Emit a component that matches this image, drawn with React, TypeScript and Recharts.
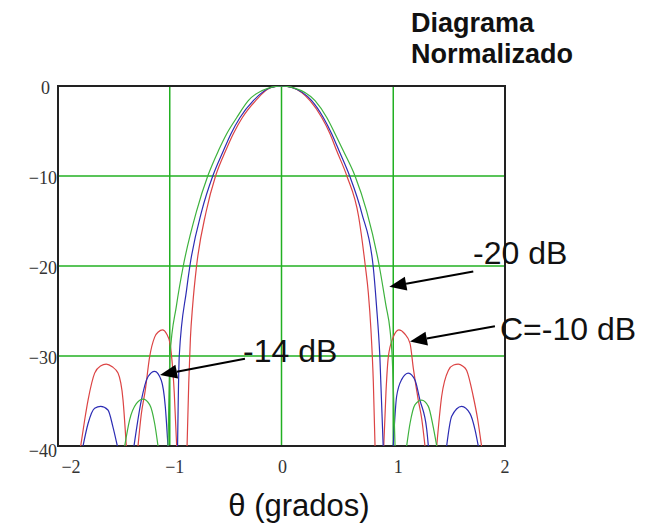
import React from 'react'
import {
  LineChart,
  Line,
  XAxis,
  YAxis,
  CartesianGrid,
  ReferenceArea,
  ReferenceLine,
} from 'recharts'

const X_TICKS = [-2, -1, 0, 1, 2]
const Y_TICKS = [-40, -30, -20, -10, 0]

// a null dB value is a gap: the pattern drops under -40 dB between lobes
// C = -10 dB (red)
const redTheta = [
  -1.797, -1.76, -1.731, -1.672, -1.62, -1.568, -1.515, -1.463, -1.418, -1.389,
  -1.34,
  -1.284, -1.255, -1.219, -1.18, -1.135, -1.1, -1.065, -1.03, -0.998, -0.983, -0.96, -0.938,
  -0.89,
  -0.845, -0.83, -0.815, -0.795, -0.76, -0.675, -0.59, -0.5, -0.431, -0.35, -0.231, -0.1, 0,
  0.1, 0.255, 0.36, 0.434, 0.494, 0.585, 0.69, 0.75, 0.777, 0.8, 0.822, 0.837,
  0.877,
  0.915, 0.935, 0.956, 1.0, 1.05, 1.1, 1.15, 1.18, 1.224, 1.255, 1.284,
  1.34,
  1.389, 1.433, 1.493, 1.54, 1.582, 1.62, 1.657, 1.716, 1.755, 1.79,
]
const redDb = [
  -40, -37, -34.9, -31.9, -31.1, -30.9, -31.2, -31.9, -34.9, -40,
  null,
  -40, -36.5, -33.8, -30.1, -27.9, -27.3, -27.1, -27.5, -28.6, -30.1, -34, -40,
  null,
  -40, -33, -28, -24.4, -20, -14, -10, -7.2, -5.3, -3.5, -1.63, -0.2, 0,
  -0.2, -1.63, -3.5, -5.3, -7.2, -10, -14.5, -20, -23, -27, -33, -40,
  null,
  -40, -34, -30.1, -27.9, -27.1, -27.5, -28.6, -31.4, -34.9, -37, -40,
  null,
  -40, -34.5, -31.6, -31.0, -30.9, -31.1, -31.6, -34.5, -37, -40,
]

// -14 dB (blue)
const blueTheta = [
  -1.776, -1.731, -1.672, -1.618, -1.553, -1.508, -1.469,
  -1.4,
  -1.32, -1.254, -1.195, -1.135, -1.076, -1.04, -1.016,
  -0.97,
  -0.93, -0.915, -0.85, -0.82, -0.714, -0.615, -0.52, -0.452, -0.371, -0.252, -0.1, 0,
  0.1, 0.27, 0.374, 0.449, 0.515, 0.61, 0.72, 0.82, 0.85, 0.88, 0.91,
  0.955,
  1.0, 1.03, 1.076, 1.135, 1.195, 1.239, 1.3, 1.314,
  1.4,
  1.478, 1.523, 1.612, 1.687, 1.732, 1.761,
]
const blueDb = [
  -40, -37.5, -35.8, -35.6, -36, -37.9, -40,
  null,
  -40, -34.9, -32.3, -31.7, -32.7, -35.6, -40,
  null,
  -40, -30, -22.7, -20, -13.9, -10, -7.2, -5.3, -3.5, -1.63, -0.2, 0,
  -0.2, -1.63, -3.5, -5.3, -7.2, -10, -14.2, -20, -24.4, -30, -40,
  null,
  -40, -34.5, -32.6, -31.9, -32.7, -34.9, -38.2, -40,
  null,
  -40, -36.7, -35.6, -36.4, -38.2, -40,
]

// -20 dB (green)
const greenTheta = [
  -1.403, -1.359, -1.299, -1.239, -1.18, -1.135, -1.105,
  -1.06,
  -1.015, -0.998, -0.94, -0.879, -0.76, -0.66, -0.565, -0.49, -0.4, -0.297, -0.11, 0,
  0.11, 0.3, 0.405, 0.479, 0.553, 0.658, 0.762, 0.875, 0.935, 0.971, 0.99, 1.016,
  1.07,
  1.12, 1.15, 1.195, 1.254, 1.314, 1.358, 1.389,
]
const greenDb = [
  -40, -37.1, -35.3, -34.8, -35.4, -37.5, -40,
  null,
  -40, -30, -24.4, -20, -13.9, -10, -7.2, -5.3, -3.5, -1.63, -0.2, 0,
  -0.2, -1.63, -3.5, -5.3, -7.2, -10, -13.9, -20, -24.4, -27.1, -30, -40,
  null,
  -40, -37.5, -35.4, -34.9, -35.6, -37.9, -40,
]

// annotation arrows, tail -> tip, in (theta, dB)
const arrowTails = [[1.716, -20.6], [1.91, -26.7], [-0.327, -30.3]]
const arrowTips = [[0.965, -22.3], [1.15, -28.4], [-1.087, -32.1]]

const toPoints = (xs: number[], ys: (number | null)[]) =>
  xs.map((x, i) => ({ x, y: ys[i] }))

const series = [
  { name: 'C=-10 dB', color: '#dc4444', data: toPoints(redTheta, redDb) },
  { name: '-14 dB', color: '#2c2cb4', data: toPoints(blueTheta, blueDb) },
  { name: '-20 dB', color: '#3db23d', data: toPoints(greenTheta, greenDb) },
]

const minus = (v: number) => String(v).replace('-', '\u2212')

// small label nudges to sit like the original axis text
const X_NUDGE: Record<number, number> = { [-2]: 13, [-1]: 5, 0: 1, 1: 5, 2: 0 }
const Y_NUDGE: Record<number, number> = { 0: -7 }

function XTick(props: any) {
  const { x, y, payload } = props
  return (
    <text x={x + (X_NUDGE[payload.value] ?? 0)} y={y} dy="0.71em" textAnchor="middle"
      fontFamily="Liberation Serif" fontSize={18} fill="#333">
      {minus(payload.value)}
    </text>
  )
}

function YTick(props: any) {
  const { x, y, payload } = props
  return (
    <text x={x + (Y_NUDGE[payload.value] ?? 0)} y={y + (payload.value === -40 ? 5 : 2)} dy="0.355em"
      textAnchor="end" fontFamily="Liberation Serif" fontSize={18} fill="#333">
      {minus(payload.value)}
    </text>
  )
}

function Arrow(props: any) {
  const { x1, y1, x2, y2 } = props
  const ang = Math.atan2(y2 - y1, x2 - x1)
  const len = 17
  const half = 7
  const bx = x2 - len * Math.cos(ang)
  const by = y2 - len * Math.sin(ang)
  const px = -Math.sin(ang) * half
  const py = Math.cos(ang) * half
  return (
    <g>
      <line x1={x1} y1={y1} x2={bx} y2={by} stroke="#000" strokeWidth={2} />
      <polygon points={`${x2},${y2} ${bx + px},${by + py} ${bx - px},${by - py}`} fill="#000" />
    </g>
  )
}

const sans = '"Liberation Sans", Arial, sans-serif'

export default function App() {
  return (
    <div style={{ position: 'absolute', left: 0, top: 0, width: 651, height: 523, background: '#fff' }}>
      <LineChart width={651} height={523} margin={{ top: 86, right: 146, bottom: 0, left: 0 }}>
        <CartesianGrid stroke="#22b022" strokeWidth={1.5} />
        <XAxis
          dataKey="x"
          type="number"
          domain={[-2, 2]}
          ticks={X_TICKS}
          allowDataOverflow
          axisLine={false}
          tickLine={false}
          tickSize={0}
          tickMargin={14}
          height={77}
          tick={<XTick />}
        />
        <YAxis
          type="number"
          domain={[-40, 0]}
          ticks={Y_TICKS}
          allowDataOverflow
          axisLine={false}
          tickLine={false}
          tickSize={0}
          tickMargin={1}
          width={58}
          tick={<YTick />}
        />
        <ReferenceArea x1={-2} x2={2} y1={-40} y2={0} fill="none" stroke="#222" strokeWidth={2} />
        {series.map((s) => (
          <Line
            key={s.name}
            data={s.data}
            dataKey="y"
            type="monotone"
            stroke={s.color}
            strokeWidth={1.2}
            dot={false}
            activeDot={false}
            isAnimationActive={false}
          />
        ))}
        {arrowTails.map((t, i) => (
          <ReferenceLine
            key={i}
            segment={[{ x: t[0], y: t[1] }, { x: arrowTips[i][0], y: arrowTips[i][1] }]}
            shape={<Arrow />}
          />
        ))}
      </LineChart>
      <svg width={651} height={523} style={{ position: 'absolute', left: 0, top: 0, pointerEvents: 'none' }}>
        <text x={411} y={32} fontFamily={sans} fontWeight="bold" fontSize={27} fill="#111">Diagrama</text>
        <text x={411} y={63} fontFamily={sans} fontWeight="bold" fontSize={27} fill="#111">Normalizado</text>
        <text x={473} y={264} fontFamily={sans} fontSize={32} fill="#111">-20 dB</text>
        <text x={500} y={340} fontFamily={sans} fontSize={32} fill="#111">C=-10 dB</text>
        <text x={243} y={362} fontFamily={sans} fontSize={32} fill="#111">-14 dB</text>
        <text x={299} y={516} textAnchor="middle" fontFamily={sans} fontSize={31} fill="#111">θ (grados)</text>
      </svg>
    </div>
  )
}
